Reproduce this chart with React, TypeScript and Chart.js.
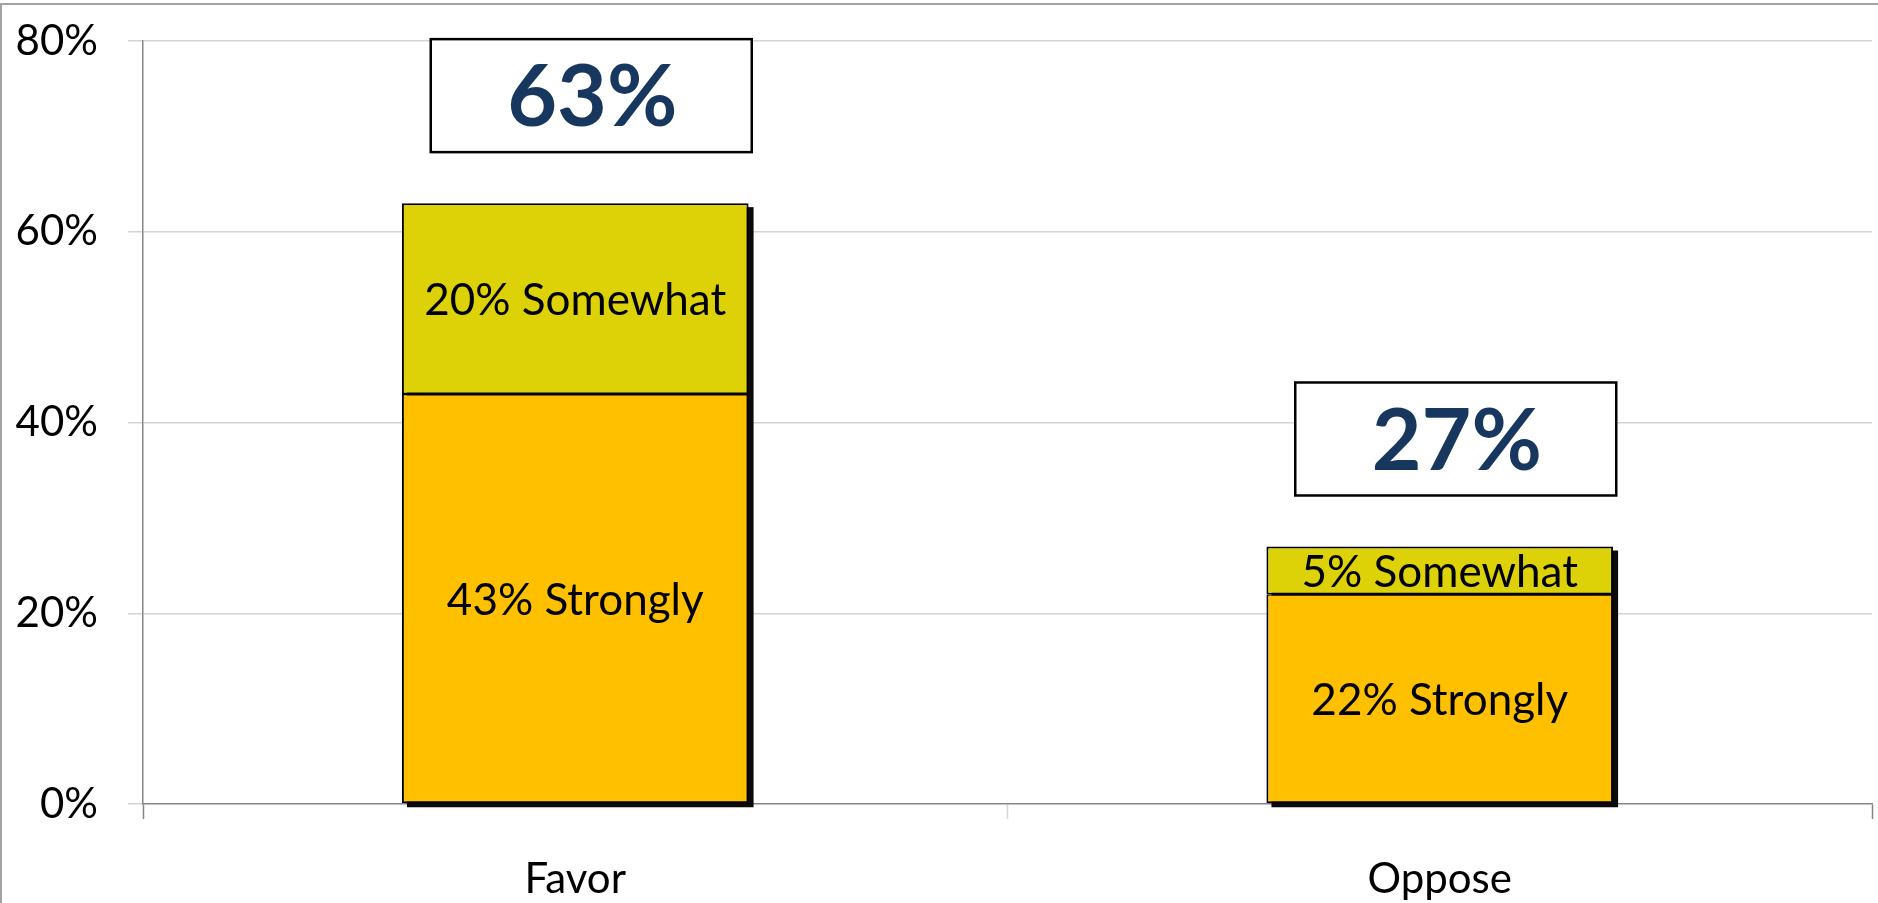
import React, { useEffect, useRef } from "react";
import { Chart, registerables } from "chart.js";

Chart.register(...registerables);

const categories = ["Favor", "Oppose"];
const seriesNames = ["Strongly", "Somewhat"];
const strongly = [43, 22];
const somewhat = [20, 5];
const totals = [63, 27];
const yTickValues = [0, 20, 40, 60, 80];

const FONT = "Lato";
const STRONG_COLOR = "#FFC000";
const SOMEWHAT_COLOR = "#DDD208";
const TOTAL_COLOR = "#17375E";

const shadowPlugin = {
  id: "barShadow",
  beforeDatasetsDraw(chart: any) {
    const ctx = chart.ctx;
    const lower = chart.getDatasetMeta(0);
    const upper = chart.getDatasetMeta(1);
    ctx.save();
    ctx.fillStyle = "#0a0a0a";
    lower.data.forEach((bar: any, i: number) => {
      const b = bar.getProps(["x", "base", "width"], true);
      const top = upper.data[i].getProps(["y"], true).y;
      ctx.fillRect(b.x - b.width / 2 + 5, top + 4, b.width, b.base - top);
    });
    ctx.restore();
  },
};

const labelPlugin = {
  id: "segmentLabels",
  afterDatasetsDraw(chart: any) {
    const ctx = chart.ctx;
    const metas = [chart.getDatasetMeta(0), chart.getDatasetMeta(1)];
    const values = [strongly, somewhat];
    ctx.save();
    ctx.textAlign = "center";
    ctx.textBaseline = "middle";
    ctx.fillStyle = "#000";
    ctx.font = `44px ${FONT}`;
    metas.forEach((meta: any, di: number) => {
      meta.data.forEach((bar: any, i: number) => {
        const p = bar.getProps(["x", "y", "base"], true);
        ctx.fillText(`${values[di][i]}% ${seriesNames[di]}`, p.x, (p.y + p.base) / 2 + 2);
      });
    });
    const yScale = chart.scales.y;
    totals.forEach((t, i) => {
      const bar = metas[1].data[i];
      const cx = bar.x + 16;
      const bottom = yScale.getPixelForValue(t) - 51;
      const w = 321;
      const h = 113;
      ctx.fillStyle = "#fff";
      ctx.fillRect(cx - w / 2, bottom - h, w, h);
      ctx.lineWidth = 2.5;
      ctx.strokeStyle = "#000";
      ctx.strokeRect(cx - w / 2, bottom - h, w, h);
      ctx.fillStyle = TOTAL_COLOR;
      ctx.font = `bold 86px ${FONT}`;
      ctx.fillText(`${t}%`, cx + 1, bottom - h / 2 + 3);
    });
    ctx.restore();
  },
};

export default function App() {
  const ref = useRef<HTMLCanvasElement | null>(null);

  useEffect(() => {
    if (!ref.current) return;
    const chart = new Chart(ref.current, {
      type: "bar",
      data: {
        labels: categories,
        datasets: [
          {
            label: seriesNames[0],
            data: strongly,
            backgroundColor: STRONG_COLOR,
            borderColor: "#000",
            borderWidth: { top: 1.5, bottom: 2, left: 2, right: 2 },
            borderSkipped: false,
            barPercentage: 0.401,
            categoryPercentage: 1,
          },
          {
            label: seriesNames[1],
            data: somewhat,
            backgroundColor: SOMEWHAT_COLOR,
            borderColor: "#000",
            borderWidth: { top: 2, bottom: 1.5, left: 2, right: 2 },
            borderSkipped: false,
            barPercentage: 0.401,
            categoryPercentage: 1,
          },
        ],
      },
      options: {
        animation: false,
        responsive: false,
        maintainAspectRatio: false,
        layout: { padding: { top: 41, right: 6, left: 0, bottom: 0 } },
        plugins: {
          legend: { display: false },
          tooltip: { enabled: false },
          title: { display: false },
        },
        scales: {
          x: {
            stacked: true,
            grid: {
              offset: true,
              drawOnChartArea: false,
              drawTicks: true,
              tickLength: 15,
              tickWidth: 1.5,
              tickColor: (c: any) => (c.index === 1 ? "#d4d4d4" : "#868686"),
            },
            border: { color: "#868686", width: 1.5 },
            ticks: { font: { family: FONT, size: 42 }, color: "#000", padding: 35 },
            afterFit: (s: any) => {
              s.height = 99;
            },
          },
          y: {
            stacked: true,
            min: 0,
            max: 80,
            afterBuildTicks: (s: any) => {
              s.ticks = yTickValues.map((v) => ({ value: v }));
            },
            ticks: {
              font: { family: FONT, size: 42 },
              color: "#000",
              padding: 30,
              callback: (v: any) => `${v}%`,
            },
            grid: {
              color: (c: any) => (c.tick && c.tick.value === 0 ? "rgba(0,0,0,0)" : "#d4d4d4"),
              tickColor: "#d4d4d4",
              tickLength: 15,
              lineWidth: 1.5,
            },
            border: { color: "#868686", width: 1.5 },
            afterFit: (s: any) => {
              s.width = 143;
              s.paddingTop = 0;
              s.paddingBottom = 0;
            },
          },
        },
      },
      plugins: [shadowPlugin, labelPlugin],
    });
    return () => chart.destroy();
  }, []);

  return (
    <div
      style={{
        position: "absolute",
        left: 0,
        top: 0,
        width: 1878,
        height: 903,
        overflow: "hidden",
        background: "#fff",
      }}
    >
      <canvas ref={ref} width={1878} height={903} style={{ position: "absolute", left: 0, top: 0, width: 1878, height: 903 }} />
      <div
        style={{
          position: "absolute",
          left: 0,
          top: 3,
          width: 1900,
          height: 920,
          borderTop: "2px solid #a3a3a3",
          borderLeft: "2px solid #a3a3a3",
          pointerEvents: "none",
        }}
      />
    </div>
  );
}
